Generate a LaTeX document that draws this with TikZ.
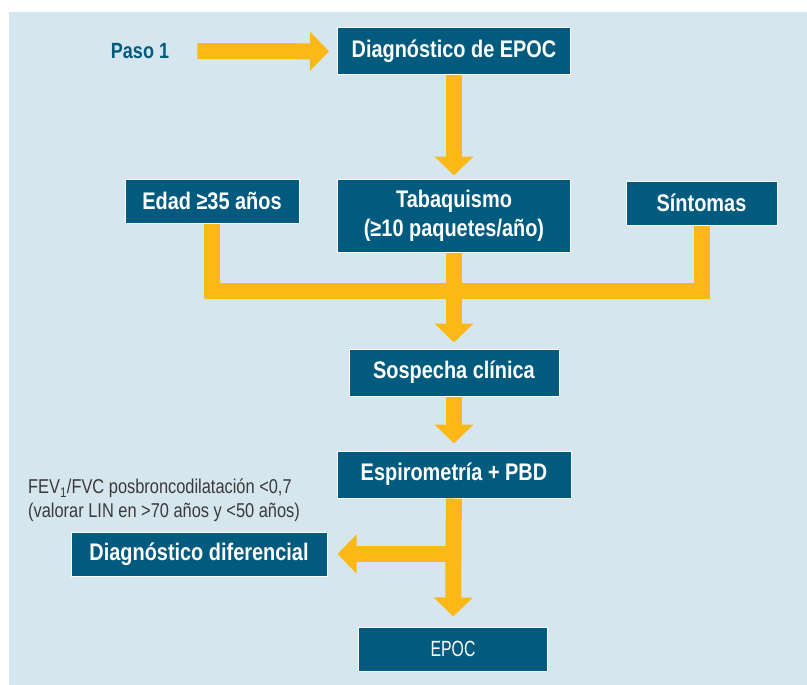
\documentclass[tikz,border=0pt]{standalone}
\usepackage{fontspec}
\setmainfont{Liberation Sans}
\newfontfamily\boxfont[FakeStretch=0.83]{Liberation Sans}
\newfontfamily\pasofont[FakeStretch=0.82]{Liberation Sans}
\newfontfamily\notefont[FakeStretch=0.82]{Liberation Sans}
\newfontfamily\epocfont[FakeStretch=0.72]{Liberation Sans}
\usetikzlibrary{arrows.meta}
\definecolor{bgblue}{HTML}{D6E6EF}
\definecolor{boxteal}{HTML}{005B7F}
\definecolor{flowyellow}{HTML}{FBB817}
\definecolor{notegray}{HTML}{3A3A3A}
\begin{document}
\begin{tikzpicture}[x=1pt,y=-1pt,
  box/.style={draw=white, line width=1pt, fill=boxteal, text=white,
    font=\boxfont\bfseries\fontsize{24}{29}\selectfont, align=center,
    inner sep=0pt, minimum height=44pt},
  flow/.style={draw=flowyellow, line width=16pt, -{Triangle[width=38pt,length=19pt]}},
  bar/.style={draw=flowyellow, line width=16pt, line join=miter}]
\useasboundingbox (0,0) rectangle (807,685);
\fill[bgblue] (9,12) rectangle (807,685);
% boxes
\node[box, minimum width=233pt, minimum height=47pt] (diag) at (454,51.5) {Diagnóstico de EPOC};
\node[box, minimum width=174pt] (edad) at (212,201) {Edad ≥35 años};
\node[box, minimum width=233pt, minimum height=73pt] (tabaq) at (454,215.5) {Tabaquismo\\(≥10 paquetes/año)};
\node[box, minimum width=151pt] (sint) at (701.5,203) {Síntomas};
\node[box, minimum width=210pt, minimum height=47pt] (sosp) at (454,372.5) {Sospecha clínica};
\node[box, minimum width=234pt, minimum height=47pt] (espiro) at (454,474.5) {Espirometría + PBD};
\node[box, minimum width=256pt] (difer) at (199,554) {Diagnóstico diferencial};
\node[box, minimum width=189pt, font=\epocfont\fontsize{22}{26}\selectfont] (epoc) at (453,649) {EPOC};
% texts
\node[text=boxteal, inner sep=0pt, font=\pasofont\bfseries\fontsize{22}{26}\selectfont] (paso) at (140,51) {Paso 1};
\node[anchor=north west, align=left, inner sep=0pt, text=notegray,
  font=\notefont\fontsize{20}{24}\selectfont] (nota) at (28,479) {FEV\textsubscript{1}/FVC posbroncodilatación <0,7\\(valorar LIN en >70 años y <50 años)};
% flechas
\coordinate (junta) at (454,291);
\coordinate (rama) at (454,554);
\draw[flow, shorten <=28pt, shorten >=8pt] (paso) -- (diag);
\draw[flow, shorten >=3pt] (diag) -- (tabaq);
\draw[bar] (edad.south) |- (junta) -| (sint.south);
\draw[flow, shorten >=6pt] (tabaq) -- (sosp);
\draw[flow, shorten >=7pt] (sosp) -- (espiro);
\draw[flow, shorten >=10pt] (espiro) -- (epoc);
\draw[flow, shorten >=10pt] (rama) -- (difer);
\end{tikzpicture}
\end{document}
